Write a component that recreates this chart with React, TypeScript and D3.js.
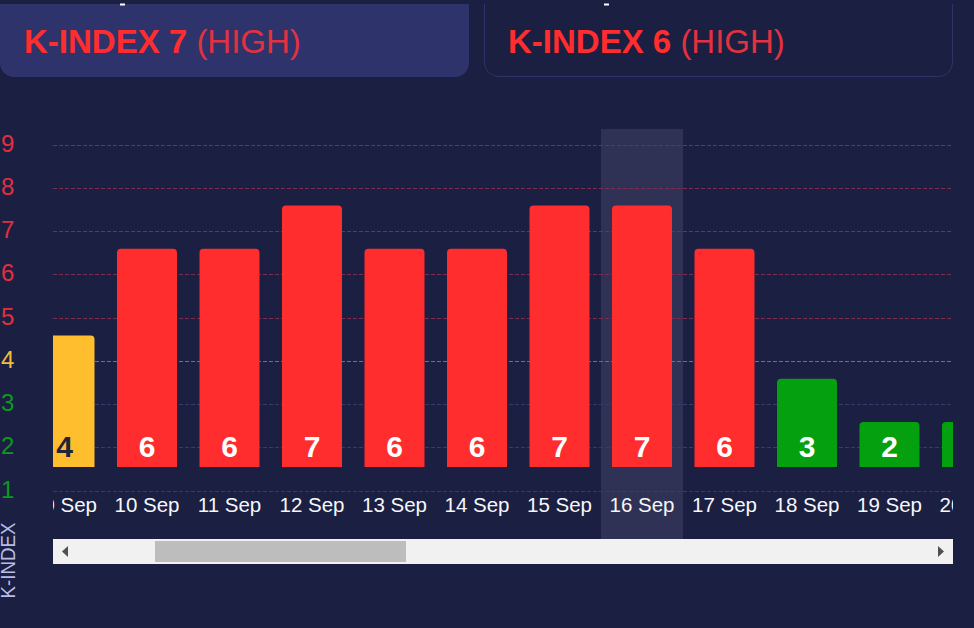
import * as d3 from "d3";

const days = ["09 Sep", "10 Sep", "11 Sep", "12 Sep", "13 Sep", "14 Sep", "15 Sep", "16 Sep", "17 Sep", "18 Sep", "19 Sep", "20 Sep"];
const kIndex = [4, 6, 6, 7, 6, 6, 7, 7, 6, 3, 2, 2];
const yTicks = [1, 2, 3, 4, 5, 6, 7, 8, 9];
const cards = [
  { label: "K-INDEX 7", level: "(HIGH)" },
  { label: "K-INDEX 6", level: "(HIGH)" },
];
const activeDay = "16 Sep";

const WIDTH = 974;
const HEIGHT = 628;
const FONT = "'Liberation Sans', Arial, sans-serif";
const PLOT_LEFT = 53;
const PLOT_RIGHT = 953;
const BASELINE = 467;

const x = d3.scaleBand<string>().domain(days).range([23.25, 23.25 + 82.5 * days.length]).paddingInner(0.2727).paddingOuter(0.1364);
const y = d3.scaleLinear().domain([1, 9]).range([491, 145]);
const barY = d3.scaleLinear().domain([2, 7]).range([422, 205.5]);

const levelColor = (v: number) => (v >= 5 ? "#ff2d2d" : v === 4 ? "#ffbe2e" : "#05a010");
const tickColor = (v: number) => (v >= 5 ? "#e0303f" : v === 4 ? "#f2bb3c" : "#0b9a1e");
const gridColor = (v: number) => (v >= 5 ? "#7d2c4b" : v === 4 ? "#7d7350" : "#363c6c");

function barPath(x0: number, w: number, top: number, bottom: number, r: number) {
  const p = d3.path();
  p.moveTo(x0, bottom);
  p.lineTo(x0, top + r);
  p.arcTo(x0, top, x0 + r, top, r);
  p.lineTo(x0 + w - r, top);
  p.arcTo(x0 + w, top, x0 + w, top + r, r);
  p.lineTo(x0 + w, bottom);
  p.closePath();
  return p.toString();
}

function cardPath(x0: number, x1: number, top: number, bottom: number, r: number) {
  const p = d3.path();
  p.moveTo(x0, top);
  p.lineTo(x0, bottom - r);
  p.arcTo(x0, bottom, x0 + r, bottom, r);
  p.lineTo(x1 - r, bottom);
  p.arcTo(x1, bottom, x1, bottom - r, r);
  p.lineTo(x1, top);
  return p.toString();
}

export default function App() {
  const activeX = x(activeDay)! + x.bandwidth() / 2;
  return (
    <svg width={WIDTH} height={HEIGHT} style={{ position: "fixed", left: 0, top: 0, background: "#1b1f41" }} fontFamily={FONT}>
      <defs>
        <clipPath id="plot">
          <rect x={PLOT_LEFT} y={120} width={PLOT_RIGHT - PLOT_LEFT} height={420} />
        </clipPath>
      </defs>

      <path d={cardPath(0, 469, 4, 77, 14) + "Z"} fill="#2e346b" />
      <path d={cardPath(484.5, 952.5, 4, 76.5, 14)} fill="none" stroke="#2e346b" strokeWidth={1} />
      <rect x={120} y={3.5} width={5} height={2} fill="#fff" />
      <rect x={604} y={3.5} width={5} height={2} fill="#fff" />

      {cards.map((c, i) => (
        <text key={c.label} x={i === 0 ? 24 : 508} y={52.5} fontSize={33} fill="#ff2d2d">
          <tspan fontWeight={700}>{c.label}</tspan>
          <tspan fill="#e2313f"> {c.level}</tspan>
        </text>
      ))}

      <rect x={activeX - 41} y={129} width={82} height={410} fill="#2f3254" />

      {yTicks.map((t) => (
        <g key={t}>
          <line x1={PLOT_LEFT} x2={PLOT_RIGHT} y1={Math.floor(y(t)) + 0.5} y2={Math.floor(y(t)) + 0.5} stroke={gridColor(t)} strokeWidth={1} strokeDasharray="4 2" />
          <text x={1} y={y(t) + 6.5} fontSize={24} fill={tickColor(t)}>{t}</text>
        </g>
      ))}

      <g clipPath="url(#plot)">
        {days.map((d, i) => {
          const cx = x(d)! + x.bandwidth() / 2;
          return (
            <g key={d}>
              <path d={barPath(x(d)!, x.bandwidth(), barY(kIndex[i]), BASELINE, 4)} fill={levelColor(kIndex[i])} />
              <text x={cx} y={457} textAnchor="middle" fontSize={30} fontWeight={700} fill={kIndex[i] === 4 ? "#23243c" : "#fff"}>{kIndex[i]}</text>
              <text x={cx} y={512} textAnchor="middle" fontSize={20.5} fill="#f6f7fb">{d}</text>
            </g>
          );
        })}
      </g>

      <text transform="translate(14.5,598.5) rotate(-90)" fontSize={20} textLength={76} lengthAdjust="spacingAndGlyphs" fill="#b9bde6">K-INDEX</text>

      <rect x={PLOT_LEFT} y={539} width={PLOT_RIGHT - PLOT_LEFT} height={25} fill="#f1f1f1" />
      <rect x={155} y={541} width={251} height={21} fill="#bdbdbd" />
      <path d="M62,551.5L68,546V557Z" fill="#505050" />
      <path d="M944,551.5L938,546V557Z" fill="#505050" />
    </svg>
  );
}
